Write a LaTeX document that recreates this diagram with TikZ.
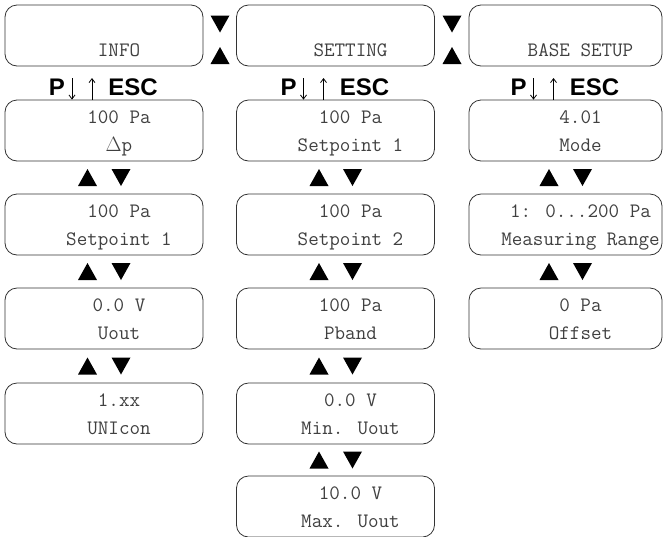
\documentclass[tikz,border=0pt]{standalone}
\usepackage{fontspec}
\setmainfont{Liberation Sans}
\usetikzlibrary{arrows.meta}

\definecolor{frame}{HTML}{333333}
\definecolor{lcdtext}{HTML}{404040}

% one display: [width] name, centre x, top y, upper line, lower line
\newcommand{\lcd}[6][198pt]{%
  \node[screen,minimum width=#1] (#2) at (#3,#4+30.5) {};
  \node[disp] (#2-1) at (#3+15,#4+23) {#5};
  \node[disp] (#2-2) at (#3+15,#4+51) {#6};
}
% filled triangles
\newcommand{\tup}[2]{\fill[tri] (#1-9.5,#2+8.5) -- (#1+9.5,#2+8.5) -- (#1,#2-8.5) -- cycle;}
\newcommand{\tdn}[2]{\fill[tri] (#1-9.5,#2-8.5) -- (#1+9.5,#2-8.5) -- (#1,#2+8.5) -- cycle;}
\newcommand{\updn}[2]{\tup{#1-16.5}{#2}\tdn{#1+17}{#2}}
% P down / up ESC over the first display of a column
\newcommand{\keys}[3]{%
  \node[keylbl] (#1-p) at (#2-47,95) {P};
  \node[keylbl] (#1-esc) at (#2+29,95) {ESC};
  \coordinate (#1-dn) at (#2-32,78);
  \coordinate (#1-up) at (#2-12,78);
  \draw[keyarr] (#1-dn) -- (#1-dn |- #3.north);
  \draw[keyarr] (#1-up |- #3.north) -- (#1-up);
}

\begin{document}
\begin{tikzpicture}[x=1pt,y=1pt,yscale=-1,xscale=1,
  screen/.style={draw=frame,line width=0.8pt,rounded corners=12pt,minimum height=61pt,inner sep=0pt},
  disp/.style={anchor=base,inner sep=0pt,text=lcdtext,font=\ttfamily\fontsize{20.5}{20.5}\selectfont},
  keylbl/.style={anchor=base,inner sep=0pt,font=\fontsize{24}{24}\selectfont\bfseries},
  keyarr/.style={line width=0.8pt,-{Straight Barb[length=4pt,width=6pt]}},
  tri/.style={black}]
\useasboundingbox (0,0) rectangle (663,536);

% top menu
\lcd{info}{104}{5}{}{INFO}
\lcd{setting}{335.5}{5}{}{SETTING}
\lcd[193pt]{base}{565.5}{5}{}{BASE SETUP}
\tdn{220}{24}
\tup{220}{55.5}
\tdn{452}{24}
\tup{452}{55.5}

% INFO column
\lcd{dp}{104}{100}{100 Pa}{$\Delta$p}
\lcd{spa}{104}{194}{100 Pa}{Setpoint 1}
\lcd{uout}{104}{288}{0.0 V}{Uout}
\lcd{unicon}{104}{383}{1.xx}{UNIcon}
\keys{ka}{104}{dp}
\updn{104}{177.5}
\updn{104}{271.5}
\updn{104}{366}

% SETTING column
\lcd{spb}{335.5}{100}{100 Pa}{Setpoint 1}
\lcd{spc}{335.5}{194}{100 Pa}{Setpoint 2}
\lcd{pband}{335.5}{288}{100 Pa}{Pband}
\lcd{minu}{335.5}{383}{0.0 V}{Min. Uout}
\lcd{maxu}{335.5}{476}{10.0 V}{Max. Uout}
\keys{kb}{335.5}{spb}
\updn{335.5}{177.5}
\updn{335.5}{271.5}
\updn{335.5}{366}
\updn{335.5}{460}

% BASE SETUP column
\lcd[193pt]{mode}{565.5}{100}{4.01}{Mode}
\lcd[193pt]{range}{565.5}{194}{1: 0...200 Pa}{Measuring Range}
\lcd[193pt]{offset}{565.5}{288}{0 Pa}{Offset}
\keys{kc}{565.5}{mode}
\updn{565.5}{177.5}
\updn{565.5}{271.5}

\end{tikzpicture}
\end{document}
